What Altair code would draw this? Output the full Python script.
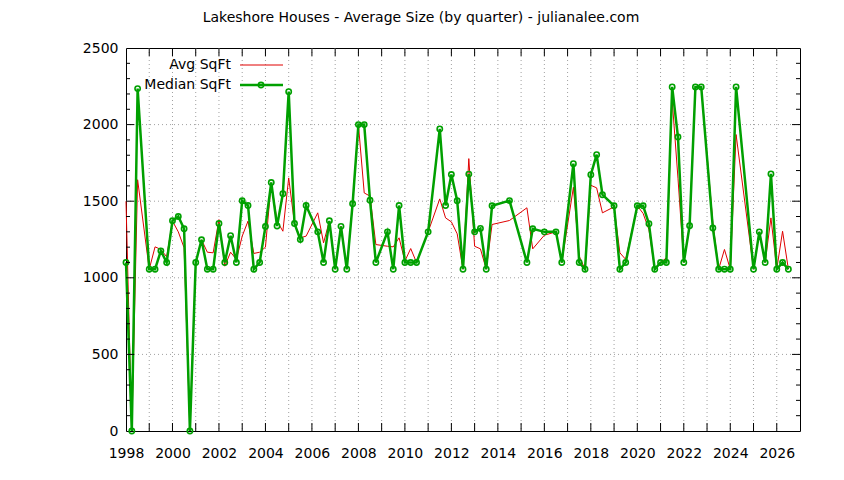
import altair as alt
import pandas as pd

title_text = "Lakeshore Houses - Average Size (by quarter) - julianalee.com"
series_names = ["Avg SqFt", "Median SqFt"]

quarters = [
    1998.00, 1998.25, 1998.50,
    1999.00, 1999.25, 1999.50, 1999.75,
    2000.00, 2000.25, 2000.50, 2000.75,
    2001.00, 2001.25, 2001.50, 2001.75,
    2002.00, 2002.25, 2002.50, 2002.75,
    2003.00, 2003.25, 2003.50, 2003.75,
    2004.00, 2004.25, 2004.50, 2004.75,
    2005.00, 2005.25, 2005.50, 2005.75,
    2006.25, 2006.50, 2006.75,
    2007.00, 2007.25, 2007.50, 2007.75,
    2008.00, 2008.25, 2008.50, 2008.75,
    2009.25, 2009.50, 2009.75,
    2010.00, 2010.25, 2010.50,
    2011.00, 2011.50, 2011.75,
    2012.00, 2012.25, 2012.50, 2012.75,
    2013.00, 2013.25, 2013.50, 2013.75,
    2014.50,
    2015.25, 2015.50,
    2016.00, 2016.50, 2016.75,
    2017.25, 2017.50, 2017.75,
    2018.00, 2018.25, 2018.50,
    2019.00, 2019.25, 2019.50,
    2020.00, 2020.25, 2020.50, 2020.75,
    2021.00, 2021.25, 2021.50, 2021.75,
    2022.00, 2022.25, 2022.50, 2022.75,
    2023.25, 2023.50, 2023.75,
    2024.00, 2024.25,
    2025.00, 2025.25, 2025.50, 2025.75,
    2026.00, 2026.25, 2026.50,
]

median_sqft = [
    1100, 0, 2235,
    1056, 1056, 1176, 1100,
    1372, 1400, 1320, 0,
    1100, 1248, 1056, 1056,
    1354, 1100, 1275, 1100,
    1503, 1472, 1056, 1100,
    1335, 1622, 1338, 1549,
    2215, 1354, 1250, 1472,
    1300, 1100, 1372,
    1056, 1336, 1056, 1483,
    2000, 2000, 1506, 1100,
    1300, 1056, 1472,
    1100, 1100, 1100,
    1300, 1972, 1472,
    1674, 1503, 1056, 1677,
    1300, 1322, 1056, 1470,
    1504,
    1100, 1320,
    1300, 1300, 1100,
    1745, 1100, 1056,
    1673, 1804, 1542,
    1470, 1056, 1100,
    1470, 1470, 1353, 1056,
    1100, 1100, 2246, 1919,
    1100, 1340, 2246, 2246,
    1325, 1056, 1056,
    1056, 2246,
    1056, 1300, 1100, 1678,
    1056, 1100, 1056,
]

avg_sqft = [
    1500, 0, 1640,
    1056, 1202, 1185, 1137,
    1370, 1300, 1196, 0,
    1100, 1248, 1167, 1163,
    1380, 1076, 1167, 1120,
    1272, 1370, 1159, 1167,
    1200, 1620, 1370, 1304,
    1652, 1354, 1261, 1272,
    1424, 1228, 1370,
    1056, 1336, 1056, 1483,
    2000, 1554, 1533, 1217,
    1206, 1202, 1261,
    1109, 1191, 1100,
    1300, 1515, 1391,
    1365, 1287, 1056, 1778,
    1206, 1189, 1056, 1348,
    1374,
    1457, 1189,
    1278, 1300, 1100,
    1591, 1141, 1056,
    1604, 1587, 1424,
    1463, 1163, 1120,
    1470, 1420, 1315, 1056,
    1100, 1130, 2160, 1650,
    1100, 1340, 2246, 2246,
    1360, 1056, 1185,
    1056, 1935,
    1056, 1300, 1100, 1391,
    1056, 1304, 1056,
]

x_label_values = list(range(1998, 2027, 2))
x_grid_values = list(range(1999, 2027))
y_label_values = [0, 500, 1000, 1500, 2000, 2500]
y_grid_values = [500, 1000, 1500, 2000]
y_minor_values = [v for v in range(100, 2500, 100) if v % 500 != 0]

W, H = 674, 383
FONT = "DejaVu Sans"
RED = "#e00000"
GREEN = "#00a000"
GRID = "#a0a0a0"

df = pd.DataFrame({"year": quarters, "median": median_sqft, "avg": avg_sqft})
xgrid_df = pd.DataFrame({"v": x_grid_values})
ygrid_df = pd.DataFrame({"v": y_grid_values})
yminor_df = pd.DataFrame({"v": y_minor_values})

xs = alt.Scale(domain=[1998, 2027], nice=False, zero=False)
ys = alt.Scale(domain=[0, 2500], nice=False, zero=False)

x_axis = alt.Axis(values=x_label_values, format="d", grid=False, ticks=False,
                  domain=False, labelFont=FONT, labelFontSize=14,
                  labelColor="black", labelPadding=15, labelFlush=False,
                  labelOverlap=False, title=None)
y_axis = alt.Axis(values=y_label_values, format="d", grid=False, ticks=False,
                  domain=False, labelFont=FONT, labelFontSize=14,
                  labelColor="black", labelPadding=8, title=None)

X = lambda f: alt.X(f, type="quantitative", scale=xs, axis=x_axis)
Y = lambda f: alt.Y(f, type="quantitative", scale=ys, axis=y_axis)

vgrid = alt.Chart(xgrid_df).mark_rule(color=GRID, strokeDash=[1, 3], strokeWidth=1).encode(
    x=X("v"), y=alt.value(0), y2=alt.value(H))
hgrid = alt.Chart(ygrid_df).mark_rule(color=GRID, strokeDash=[1, 3], strokeWidth=1).encode(
    y=Y("v"), x=alt.value(0), x2=alt.value(W))

xt_bottom = alt.Chart(xgrid_df).mark_rule(color="black", strokeWidth=1).encode(
    x=X("v"), y=alt.value(H), y2=alt.value(H - 8))
xt_top = alt.Chart(xgrid_df).mark_rule(color="black", strokeWidth=1).encode(
    x=X("v"), y=alt.value(0), y2=alt.value(8))
yt_major_l = alt.Chart(ygrid_df).mark_rule(color="black", strokeWidth=1).encode(
    y=Y("v"), x=alt.value(0), x2=alt.value(8))
yt_major_r = alt.Chart(ygrid_df).mark_rule(color="black", strokeWidth=1).encode(
    y=Y("v"), x=alt.value(W - 8), x2=alt.value(W))
yt_minor_l = alt.Chart(yminor_df).mark_rule(color="black", strokeWidth=1).encode(
    y=Y("v"), x=alt.value(0), x2=alt.value(4))
yt_minor_r = alt.Chart(yminor_df).mark_rule(color="black", strokeWidth=1).encode(
    y=Y("v"), x=alt.value(W - 4), x2=alt.value(W))

avg_line = alt.Chart(df).mark_line(color=RED, strokeWidth=1).encode(
    x=X("year"), y=Y("avg"))
med_line = alt.Chart(df).mark_line(color=GREEN, strokeWidth=2.5).encode(
    x=X("year"), y=Y("median"))
med_pts = alt.Chart(df).mark_point(shape="circle", filled=False, color=GREEN,
                                   size=28, strokeWidth=1.6, opacity=1).encode(
    x=X("year"), y=Y("median"))

# legend (gnuplot style, inside top-left)
leg_df1 = pd.DataFrame({"t": [series_names[0]]})
leg_df2 = pd.DataFrame({"t": [series_names[1]]})
leg_text1 = alt.Chart(leg_df1).mark_text(align="right", baseline="middle", font=FONT,
                                         fontSize=14, color="black").encode(
    text="t:N", x=alt.value(105), y=alt.value(17))
leg_text2 = alt.Chart(leg_df2).mark_text(align="right", baseline="middle", font=FONT,
                                         fontSize=14, color="black").encode(
    text="t:N", x=alt.value(105), y=alt.value(37))
leg_line1 = alt.Chart(leg_df1).mark_rule(color=RED, strokeWidth=1).encode(
    x=alt.value(114), x2=alt.value(157), y=alt.value(17))
leg_line2 = alt.Chart(leg_df2).mark_rule(color=GREEN, strokeWidth=2.5).encode(
    x=alt.value(114), x2=alt.value(157), y=alt.value(37))
leg_pt2 = alt.Chart(leg_df2).mark_point(shape="circle", filled=False, color=GREEN,
                                        size=28, strokeWidth=1.6, opacity=1).encode(
    x=alt.value(135), y=alt.value(37))

title_df = pd.DataFrame({"t": [title_text]})
title = alt.Chart(title_df).mark_text(align="center", baseline="middle", font=FONT,
                                      fontSize=14, color="black").encode(
    text="t:N", x=alt.value(295), y=alt.value(-30))

chart = alt.layer(
    vgrid, hgrid, avg_line, med_line, med_pts,
    xt_bottom, xt_top, yt_major_l, yt_major_r, yt_minor_l, yt_minor_r,
    leg_text1, leg_text2, leg_line1, leg_line2, leg_pt2, title,
).properties(
    width=W, height=H,
    padding={"left": 118, "top": 40, "right": 36, "bottom": 41},
    autosize=alt.AutoSizeParams(type="none"),
    background="white",
).configure_view(stroke="black", strokeWidth=1)

chart.save("out.html", embed_options={"renderer": "svg", "actions": False})
